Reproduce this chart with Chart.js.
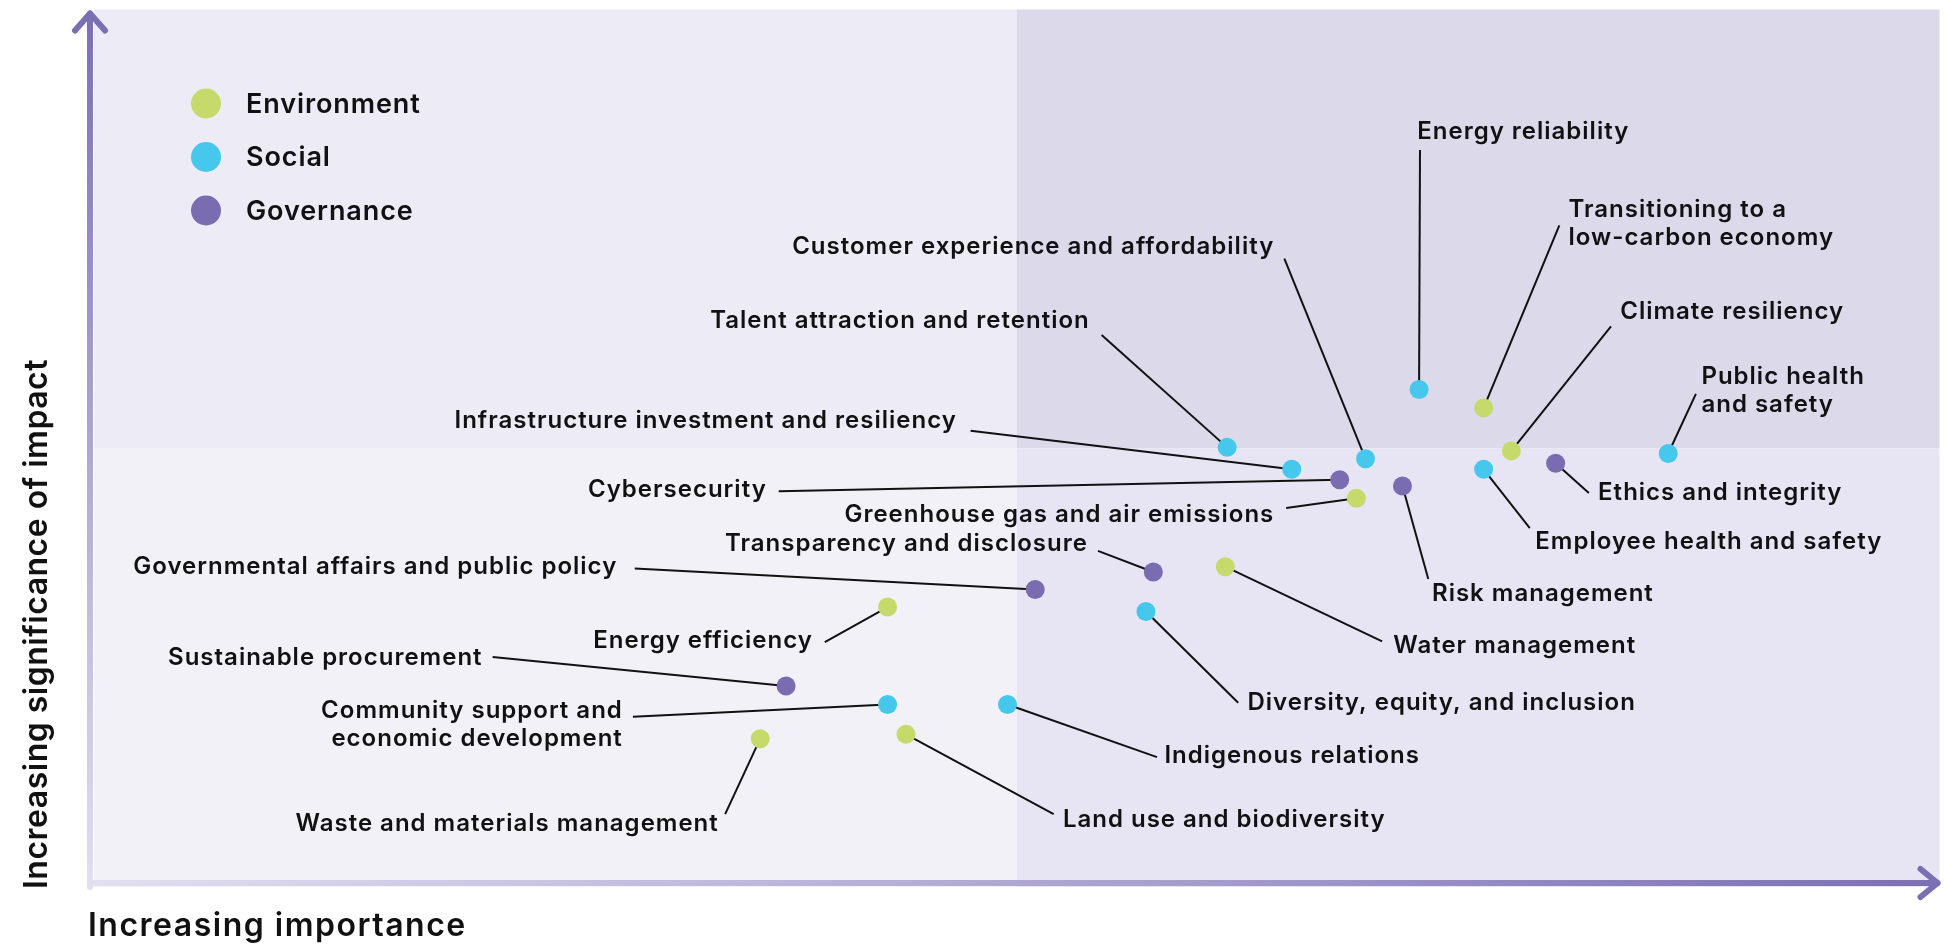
<!DOCTYPE html>
<html>
<head>
<meta charset="utf-8">
<script src="https://cdn.jsdelivr.net/npm/chart.js@4.4.1/dist/chart.umd.min.js"></script>
<style>
  html, body { margin: 0; padding: 0; background: #fff; }
</style>
</head>
<body>
<canvas id="matrix" width="1949" height="950"></canvas>
<script>
// materiality topics (0-100 on both axes, 50 = quadrant split)
const topics = [
    'Energy reliability',
    'Transitioning to a low-carbon economy',
    'Climate resiliency',
    'Public health and safety',
    'Ethics and integrity',
    'Employee health and safety',
    'Risk management',
    'Water management',
    'Diversity, equity, and inclusion',
    'Indigenous relations',
    'Land use and biodiversity',
    'Waste and materials management',
    'Community support and economic development',
    'Sustainable procurement',
    'Energy efficiency',
    'Governmental affairs and public policy',
    'Transparency and disclosure',
    'Greenhouse gas and air emissions',
    'Cybersecurity',
    'Infrastructure investment and resiliency',
    'Talent attraction and retention',
    'Customer experience and affordability'
];
const pillar = [
    'Social', 'Environment', 'Environment', 'Social', 'Governance', 'Social',
    'Governance', 'Environment', 'Social', 'Social', 'Environment', 'Environment',
    'Social', 'Governance', 'Environment', 'Governance', 'Governance', 'Environment',
    'Governance', 'Social', 'Social', 'Social'
];
const importance = [71.8, 75.3, 76.8, 85.3, 79.2, 75.3, 70.9, 61.3, 57.0, 49.5, 44.0, 36.1, 43.0, 37.5, 43.0, 51.0, 57.4, 68.4, 67.5, 64.9, 61.4, 68.9];
const impact = [56.7, 54.6, 49.7, 49.4, 48.3, 47.6, 45.7, 36.5, 31.4, 20.8, 17.4, 16.9, 20.8, 22.9, 31.9, 33.9, 35.9, 44.3, 46.4, 47.6, 50.1, 48.8];

const pillars = ['Environment', 'Social', 'Governance'];
const pillarColors = { Environment: '#c5da6a', Social: '#46c7ec', Governance: '#7a6cb0' };

// where each label sits (axis units), alignment, line break, leader start
const labelSpots = [
    { x: 71.7, y: 86.1, align: 'left', lx: 71.85, ly: 84.0 },
    { x: 79.9, y: 77.2, align: 'left', br: 3, lx: 79.4, ly: 75.4 },
    { x: 82.7, y: 65.6, align: 'left', lx: 82.2, ly: 63.9 },
    { x: 87.1, y: 58.1, align: 'left', br: 2, lx: 86.8, ly: 56.2 },
    { x: 81.5, y: 44.9, align: 'left', lx: 81.0, ly: 44.9 },
    { x: 78.1, y: 39.3, align: 'left', lx: 77.8, ly: 40.9 },
    { x: 72.5, y: 33.4, align: 'left', lx: 72.3, ly: 35.1 },
    { x: 70.4, y: 27.5, align: 'left', lx: 69.8, ly: 28.0 },
    { x: 62.5, y: 21.0, align: 'left', lx: 62.0, ly: 21.0 },
    { x: 58.0, y: 14.9, align: 'left', lx: 57.6, ly: 14.8 },
    { x: 52.5, y: 7.7, align: 'left', lx: 52.0, ly: 8.3 },
    { x: 33.8, y: 7.2, align: 'right', lx: 34.2, ly: 8.3 },
    { x: 28.6, y: 20.1, align: 'right', br: 3, lx: 29.2, ly: 19.4 },
    { x: 21.0, y: 26.1, align: 'right', lx: 21.6, ly: 26.2 },
    { x: 38.9, y: 28.1, align: 'right', lx: 39.6, ly: 27.9 },
    { x: 28.3, y: 36.5, align: 'right', lx: 29.3, ly: 36.3 },
    { x: 53.8, y: 39.1, align: 'right', lx: 54.4, ly: 38.3 },
    { x: 63.9, y: 42.4, align: 'right', lx: 64.6, ly: 43.2 },
    { x: 36.4, y: 45.3, align: 'right', lx: 37.1, ly: 45.1 },
    { x: 46.7, y: 53.1, align: 'right', lx: 47.5, ly: 52.0 },
    { x: 53.9, y: 64.5, align: 'right', lx: 54.6, ly: 62.9 },
    { x: 63.9, y: 73.0, align: 'right', lx: 64.5, ly: 71.6 }
];

const FONT = 'Inter, "Open Sans", sans-serif';
const ARROW = '#7b6fb3';
const ARROW_PALE = '#e2dff0';

function splitLines(name, br) {
    if (!br) return [name];
    const words = name.split(' ');
    return [words.slice(0, br).join(' '), words.slice(br).join(' ')];
}

// canvas letterSpacing adds space after the last glyph too; shift right-aligned text back
function drawText(ctx, text, x, y, align, spacing) {
    ctx.textAlign = align;
    ctx.fillText(text, align === 'right' ? x + spacing : x, y);
}

function drawArrowHead(ctx, tx, ty, dx, dy) {
    ctx.beginPath();
    ctx.moveTo(tx + dx[0], ty + dy[0]);
    ctx.lineTo(tx, ty);
    ctx.lineTo(tx + dx[1], ty + dy[1]);
    ctx.stroke();
}

const matrixPlugin = {
    id: 'matrix',
    beforeDatasetsDraw(chart) {
        const { ctx, chartArea: a, scales: { x, y } } = chart;
        const mx = x.getPixelForValue(50), my = y.getPixelForValue(50);
        ctx.save();
        ctx.fillStyle = '#edebf5';
        ctx.fillRect(a.left, a.top, mx - a.left, my - a.top);
        ctx.fillStyle = '#dcd9eb';
        ctx.fillRect(mx, a.top, a.right - mx, my - a.top);
        ctx.fillStyle = '#f2f1f8';
        ctx.fillRect(a.left, my, mx - a.left, a.bottom - my);
        ctx.fillStyle = '#e7e5f3';
        ctx.fillRect(mx, my, a.right - mx, a.bottom - my);

        // leader lines
        ctx.strokeStyle = '#111';
        ctx.lineWidth = 2;
        labelSpots.forEach((s, i) => {
            ctx.beginPath();
            ctx.moveTo(x.getPixelForValue(s.lx), y.getPixelForValue(s.ly));
            ctx.lineTo(x.getPixelForValue(importance[i]), y.getPixelForValue(impact[i]));
            ctx.stroke();
        });
        ctx.restore();
    },
    afterDatasetsDraw(chart) {
        const { ctx, scales: { x, y } } = chart;
        ctx.save();
        ctx.fillStyle = '#111';
        ctx.font = `600 24px ${FONT}`;
        ctx.letterSpacing = '1px';
        ctx.textBaseline = 'middle';
        labelSpots.forEach((s, i) => {
            const px = x.getPixelForValue(s.x), py = y.getPixelForValue(s.y);
            splitLines(topics[i], s.br).forEach((line, k) => drawText(ctx, line, px, py + k * 28, s.align, 1));
        });
        ctx.restore();
    },
    afterDraw(chart) {
        const { ctx, chartArea: a } = chart;
        ctx.save();
        ctx.lineWidth = 6;
        ctx.lineCap = 'round';
        ctx.lineJoin = 'round';

        // vertical axis arrow
        const ax = a.left - 4;
        let g = ctx.createLinearGradient(0, a.top, 0, a.bottom);
        g.addColorStop(0, ARROW);
        g.addColorStop(1, ARROW_PALE);
        ctx.strokeStyle = g;
        ctx.beginPath();
        ctx.moveTo(ax, a.bottom);
        ctx.lineTo(ax, a.top + 4);
        ctx.stroke();
        ctx.strokeStyle = ARROW;
        drawArrowHead(ctx, ax, a.top + 4, [-15, 15], [17, 17]);

        // horizontal axis arrow
        const ay = a.bottom - 4;
        g = ctx.createLinearGradient(a.left, 0, a.right, 0);
        g.addColorStop(0, ARROW_PALE);
        g.addColorStop(1, ARROW);
        ctx.strokeStyle = g;
        ctx.beginPath();
        ctx.moveTo(ax, ay);
        ctx.lineTo(a.right - 2, ay);
        ctx.stroke();
        ctx.strokeStyle = ARROW;
        drawArrowHead(ctx, a.right - 2, ay, [-17, -17], [-14, 14]);

        // axis titles
        ctx.fillStyle = '#111';
        ctx.font = `600 32px ${FONT}`;
        ctx.letterSpacing = '1.5px';
        ctx.textBaseline = 'middle';
        ctx.textAlign = 'left';
        ctx.fillText('Increasing importance', a.left - 6, a.bottom + 39);
        ctx.letterSpacing = '0.5px';
        ctx.save();
        ctx.translate(37, a.bottom + 2);
        ctx.rotate(-Math.PI / 2);
        ctx.fillText('Increasing significance of impact', 0, 0);
        ctx.restore();

        // legend
        ctx.font = `600 27px ${FONT}`;
        ctx.letterSpacing = '0.9px';
        chart.data.datasets.forEach((ds, i) => {
            const cy = a.top + 94 + i * 53.5;
            ctx.fillStyle = ds.backgroundColor;
            ctx.beginPath();
            ctx.arc(a.left + 112, cy, 15, 0, Math.PI * 2);
            ctx.fill();
            ctx.fillStyle = '#111';
            ctx.fillText(ds.label, a.left + 152, cy + 1);
        });
        ctx.restore();
    }
};

const datasets = pillars.map(p => ({
    label: p,
    data: topics.map((t, i) => ({ x: importance[i], y: impact[i], name: t })).filter((d, i) => pillar[i] === p),
    backgroundColor: pillarColors[p],
    borderWidth: 0,
    pointRadius: 9.5,
    pointHoverRadius: 9.5
}));

new Chart(document.getElementById('matrix').getContext('2d'), {
    type: 'scatter',
    data: { datasets },
    options: {
        responsive: false,
        animation: false,
        devicePixelRatio: 1,
        layout: { padding: { left: 94, top: 9, right: 8, bottom: 63 } },
        scales: {
            x: { display: false, min: 0, max: 100 },
            y: { display: false, min: 0, max: 100 }
        },
        plugins: { legend: { display: false }, tooltip: { enabled: false } }
    },
    plugins: [matrixPlugin]
});
</script>
</body>
</html>
